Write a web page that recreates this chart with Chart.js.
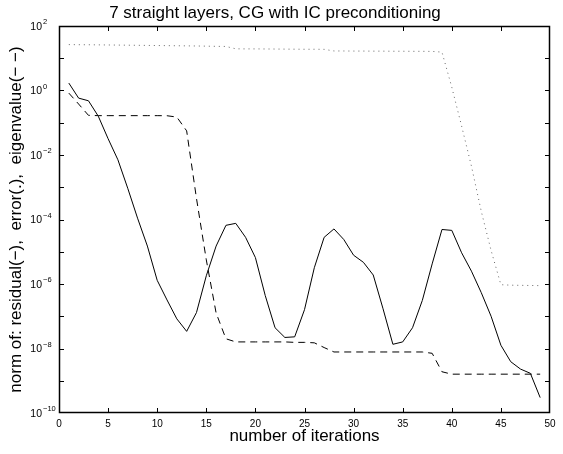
<!DOCTYPE html>
<html>
<head>
<meta charset="utf-8">
<script src="https://cdn.jsdelivr.net/npm/chart.js@4.4.0/dist/chart.umd.min.js"></script>
<style>
  html, body { margin: 0; padding: 0; background: #fff; }
  #wrap { width: 563px; height: 454px; }
</style>
</head>
<body>
<div id="wrap"><canvas id="c" width="563" height="454"></canvas></div>
<script>
// values (log axis)
const iterations = [1, 2, 3, 4, 5, 6, 7, 8, 9, 10, 11, 12, 13, 14, 15, 16, 17, 18, 19, 20,
  21, 22, 23, 24, 25, 26, 27, 28, 29, 30, 31, 32, 33, 34, 35, 36, 37, 38, 39, 40,
  41, 42, 43, 44, 45, 46, 47, 48, 49];

const residual = [1.7, 0.58, 0.48, 0.16, 0.032, 7.1e-3, 9.3e-4, 1.1e-4, 1.5e-5, 1.3e-6,
  3.2e-7, 8.3e-8, 3.4e-8, 1.3e-7, 1.8e-6, 1.5e-5, 6.6e-5, 7.6e-5, 2.8e-5, 6.6e-6,
  4.4e-7, 4.4e-8, 2.2e-8, 2.3e-8, 1.6e-7, 3.2e-6, 2.8e-5, 5.1e-5, 2.4e-5, 7.8e-6,
  4.7e-6, 1.9e-6, 1.7e-7, 1.35e-8, 1.6e-8, 4.4e-8, 3.1e-7, 4.2e-6, 4.9e-5, 4.6e-5,
  9.3e-6, 2.5e-6, 5.4e-7, 1.0e-7, 1.26e-8, 3.9e-9, 2.3e-9, 1.7e-9, 3.0e-10];

const error = [26.5, 26.3, 26.2, 26.0, 25.8, 25.6, 25.4, 25.2, 25.0, 24.8,
  24.6, 24.4, 24.2, 24.0, 23.7, 23.4, 23.2, 19.6, 19.5, 19.5,
  19.4, 19.3, 19.2, 19.1, 19.0, 19.0, 18.9, 16.8, 16.8, 16.7,
  16.7, 16.6, 16.6, 16.5, 16.5, 16.4, 16.4, 16.3, 15.5, 1.26,
  0.079, 4.5e-3, 1.8e-4, 1.1e-5, 9.5e-7, 9.2e-7, 9.1e-7, 9.0e-7, 8.9e-7];

const eigenvalue = [0.83, 0.38, 0.17, 0.166, 0.166, 0.166, 0.166, 0.166, 0.166, 0.166,
  0.165, 0.15, 0.056, 4.5e-4, 5.6e-6, 1.26e-7, 2.0e-8, 1.6e-8, 1.6e-8, 1.6e-8,
  1.6e-8, 1.6e-8, 1.6e-8, 1.55e-8, 1.55e-8, 1.5e-8, 1.07e-8, 7.8e-9, 7.8e-9, 7.8e-9,
  7.8e-9, 7.8e-9, 7.8e-9, 7.8e-9, 7.8e-9, 7.8e-9, 7.8e-9, 7.1e-9, 1.9e-9, 1.6e-9,
  1.6e-9, 1.6e-9, 1.6e-9, 1.6e-9, 1.6e-9, 1.6e-9, 1.6e-9, 1.6e-9, 1.6e-9];

const xTicks = [0, 5, 10, 15, 20, 25, 30, 35, 40, 45, 50];
const yDecades = [2, 1, 0, -1, -2, -3, -4, -5, -6, -7, -8, -9, -10];
const yLabelExps = [2, 0, -2, -4, -6, -8, -10];

const FONT = "'Liberation Sans', Arial, Helvetica, sans-serif";

function pairs(vals) {
  return iterations.map((it, i) => ({ x: it, y: vals[i] }));
}

// matlab style box: inward ticks on all four sides, 10^n labels
const frame = {
  id: 'frame',
  afterDraw(chart) {
    const { ctx, chartArea: a, scales: { x, y } } = chart;
    ctx.save();
    ctx.strokeStyle = '#000';
    ctx.lineWidth = 1.5;
    ctx.strokeRect(a.left + 0.5, a.top + 0.5, a.right - a.left - 1, a.bottom - a.top - 1);
    ctx.lineWidth = 1;
    ctx.beginPath();
    xTicks.slice(1, -1).forEach(v => {
      const px = Math.round(x.getPixelForValue(v)) + 0.5;
      ctx.moveTo(px, a.bottom);
      ctx.lineTo(px, a.bottom - 5);
      ctx.moveTo(px, a.top);
      ctx.lineTo(px, a.top + 5);
    });
    yDecades.slice(1, -1).forEach(e => {
      const py = Math.round(y.getPixelForValue(Math.pow(10, e))) + 0.5;
      ctx.moveTo(a.left, py);
      ctx.lineTo(a.left + 5, py);
      ctx.moveTo(a.right, py);
      ctx.lineTo(a.right - 5, py);
    });
    ctx.stroke();

    ctx.fillStyle = '#000';
    ctx.textBaseline = 'middle';
    yLabelExps.forEach(e => {
      const py = y.getPixelForValue(Math.pow(10, e));
      ctx.font = '10.5px ' + FONT;
      ctx.textAlign = 'right';
      ctx.fillText('10', 42, py + 1);
      ctx.font = '7.5px ' + FONT;
      ctx.textAlign = 'left';
      ctx.fillText(String(e).replace('-', '\u2212'), 43, py - 4);
    });
    ctx.restore();
  }
};

new Chart(document.getElementById('c'), {
  type: 'line',
  data: {
    datasets: [
      {
        label: 'residual',
        data: pairs(residual),
        borderColor: '#000',
        borderWidth: 1,
        pointRadius: 0,
        tension: 0
      },
      {
        label: 'error',
        data: pairs(error),
        borderColor: '#666',
        borderWidth: 1,
        borderDash: [1, 4],
        pointRadius: 0,
        tension: 0
      },
      {
        label: 'eigenvalue',
        data: pairs(eigenvalue),
        borderColor: '#000',
        borderWidth: 1,
        borderDash: [7, 5],
        pointRadius: 0,
        tension: 0
      }
    ]
  },
  options: {
    responsive: false,
    animation: false,
    devicePixelRatio: 1,
    layout: { padding: { left: 0, right: 13, top: 0, bottom: 0 } },
    plugins: {
      legend: { display: false },
      tooltip: { enabled: false },
      title: {
        display: true,
        text: '7 straight layers, CG with IC preconditioning',
        color: '#000',
        font: { family: FONT, size: 17, weight: 'normal', lineHeight: 1 },
        padding: { top: 5, bottom: 4 }
      }
    },
    scales: {
      x: {
        type: 'linear',
        min: 0,
        max: 50,
        grid: { display: false, drawTicks: false },
        border: { display: false },
        ticks: {
          stepSize: 5,
          color: '#000',
          padding: 5,
          maxRotation: 0,
          font: { family: FONT, size: 10 }
        },
        title: {
          display: true,
          text: 'number of iterations',
          color: '#000',
          font: { family: FONT, size: 17 },
          padding: { top: 7, bottom: 7 }
        },
        afterFit(scale) { scale.height = 41; }
      },
      y: {
        type: 'logarithmic',
        min: 1e-10,
        max: 1e2,
        grid: { display: false, drawTicks: false },
        border: { display: false },
        ticks: { display: false },
        title: {
          display: true,
          text: 'norm of: residual(\u2212),  error(.),  eigenvalue(\u2212 \u2212)',
          color: '#000',
          font: { family: FONT, size: 17 },
          padding: { top: 6, bottom: 6 }
        },
        afterFit(scale) { scale.width = 59; }
      }
    }
  },
  plugins: [frame]
});
</script>
</body>
</html>
